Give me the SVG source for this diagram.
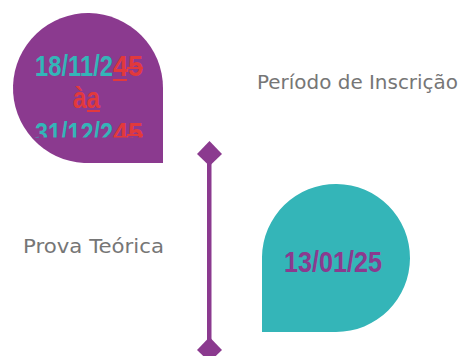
<svg xmlns="http://www.w3.org/2000/svg" width="473" height="356" viewBox="0 0 473 356">
<style>
.lbl{font-family:"DejaVu Sans",Verdana,sans-serif;font-size:19.5px;fill:#767676}
.d{font-family:"Liberation Sans",Arial,sans-serif;font-weight:bold;font-size:29px}
.teal{fill:#34B5B8}
.red{fill:#E2393C}
.purp{fill:#8B3A8F}
</style>
<defs>
<clipPath id="c1"><rect x="0" y="0" width="200" height="137.5"/></clipPath>
</defs>
<g id="connectors">
<rect x="207" y="154" width="4.5" height="202" fill="#8B3A8F"/>
<polygon points="209.5,141 222,154 209.5,166 197,154" fill="#8B3A8F"/>
<polygon points="209.5,337 222,350 209.5,362 197,350" fill="#8B3A8F"/>
</g>
<g id="node-periodo-shape">
<path d="M163,163 H84 A75,75 0 1 1 163,88 Z" fill="#8B3A8F"/>
<text class="d teal" x="35" y="76" textLength="78" lengthAdjust="spacingAndGlyphs">18/11/2</text>
<text class="d red" x="113" y="76" textLength="30" lengthAdjust="spacingAndGlyphs">45</text>
<rect x="113" y="79" width="14" height="2" fill="#E2393C"/>
<rect x="127" y="67" width="16" height="2" fill="#E2393C"/>
<text class="d red" x="73" y="108" textLength="27" lengthAdjust="spacingAndGlyphs">àa</text>
<rect x="87" y="110" width="13" height="2" fill="#E2393C"/>
<g clip-path="url(#c1)">
<text class="d teal" x="35" y="143" textLength="78" lengthAdjust="spacingAndGlyphs">31/12/2</text>
<text class="d red" x="113" y="143" textLength="30" lengthAdjust="spacingAndGlyphs">45</text>
<rect x="127" y="134" width="16" height="2" fill="#E2393C"/>
</g>
</g>
<g id="node-periodo-label">
<text class="lbl" x="257" y="89" textLength="201" lengthAdjust="spacingAndGlyphs">Período de Inscrição</text>
</g>
<g id="node-prova-shape">
<path d="M262,332 V257 A74,74 0 1 1 336,332 Z" fill="#34B5B8"/>
<text class="d purp" x="284" y="272" textLength="98" lengthAdjust="spacingAndGlyphs">13/01/25</text>
</g>
<g id="node-prova-label">
<text class="lbl" x="23" y="253" textLength="141" lengthAdjust="spacingAndGlyphs">Prova Teórica</text>
</g>
</svg>
